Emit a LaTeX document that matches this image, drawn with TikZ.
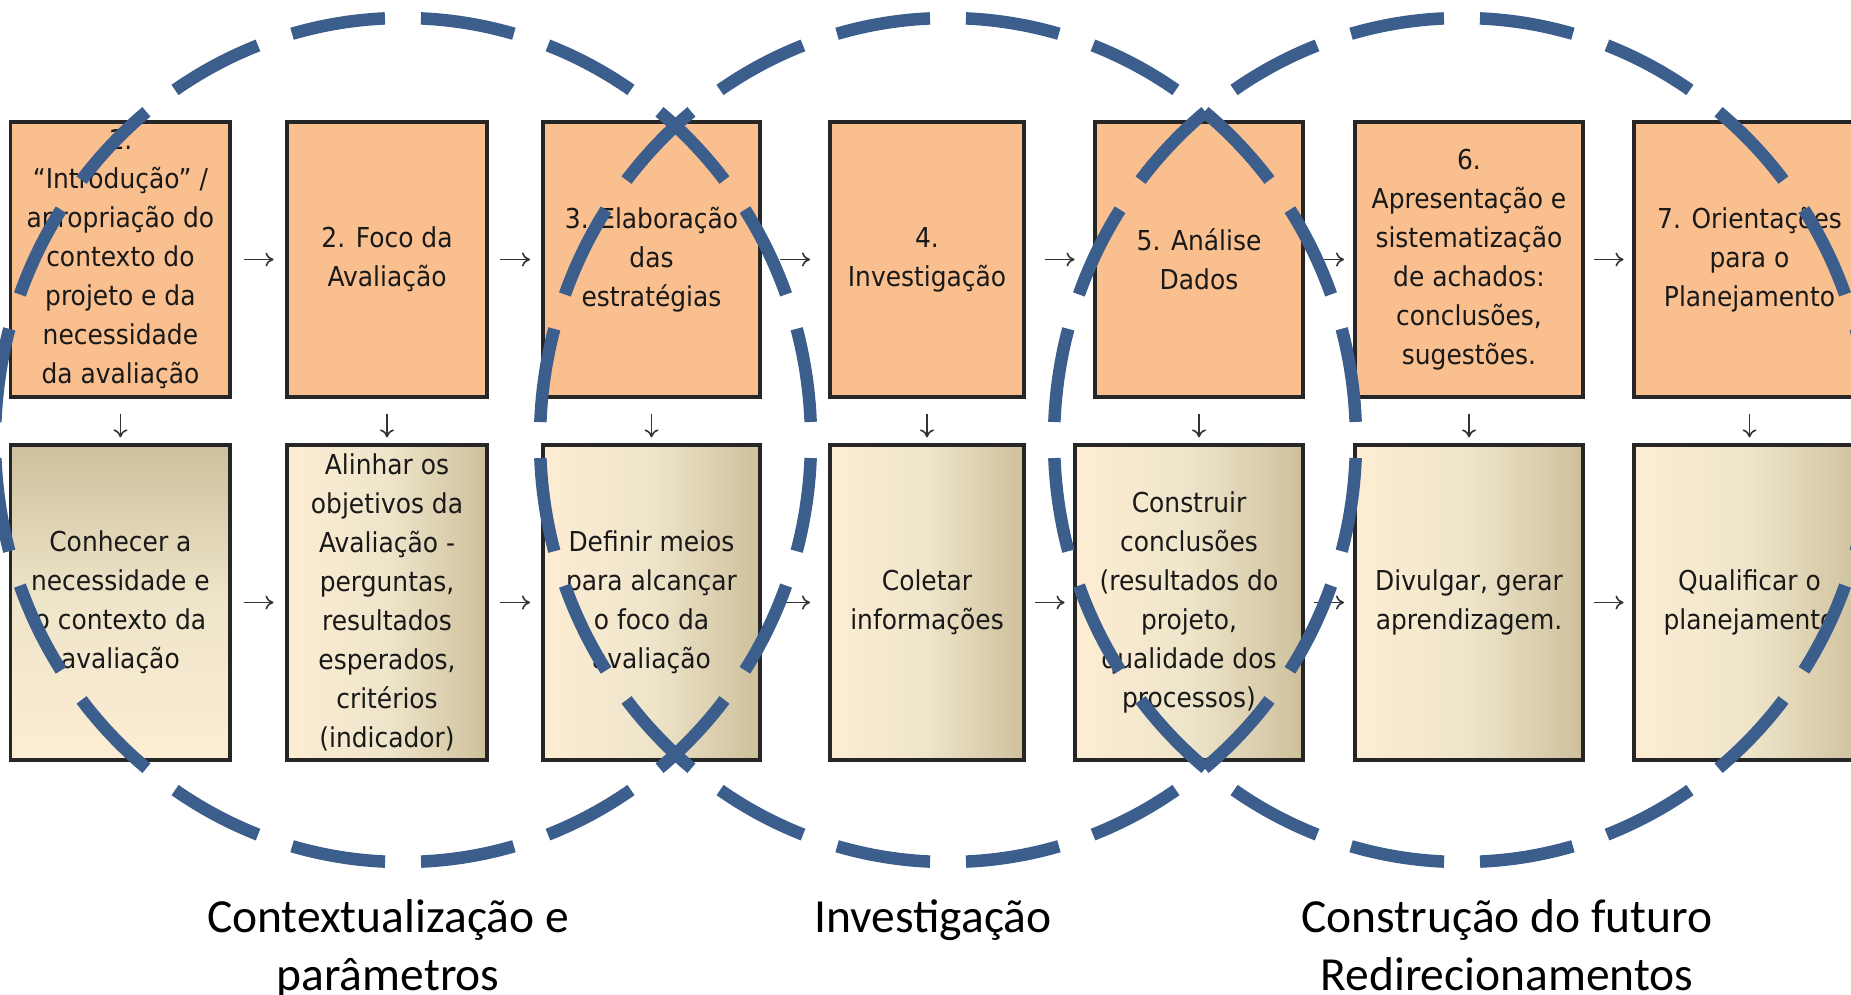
\documentclass[tikz,border=0pt]{standalone}
\usepackage{fontspec}
\usepackage{tikz}
\usetikzlibrary{calc}
\usetikzlibrary{arrows.meta}

\newfontfamily\caixafont[FakeStretch=0.91]{DejaVu Sans}
\newfontfamily\rotulofont{Carlito}

\definecolor{pessego}{HTML}{F9BF8F}
\definecolor{creme}{HTML}{FDEDD3}
\definecolor{areia}{HTML}{EEE5CA}
\definecolor{caqui}{HTML}{CEC09C}
\definecolor{anil}{HTML}{3B5E8C}

\tikzset{
  caixatopo/.style={draw=black!85, line width=1.6pt, fill=pessego, inner sep=0pt,
    minimum height=137.5pt, align=center, text=black!90,
    font=\caixafont\fontsize{13.7}{19.5}\selectfont},
  caixabaixo/.style={draw=black!85, line width=1.6pt, left color=creme, right color=caqui,
    middle color=areia, inner sep=0pt, minimum height=157.5pt, align=center, text=black!90,
    font=\caixafont\fontsize{13.7}{19.5}\selectfont},
  caixavertical/.style={caixabaixo, top color=caqui, bottom color=creme, middle color=areia},
  seta/.style={-{To[length=4pt,width=7pt]}, line width=0.8pt, black!80},
  anel/.style={anil, line width=6.25pt, dash pattern=on 47.2pt off 18pt, dash phase=56.2pt},
  rotulo/.style={anchor=base, inner sep=0pt, font=\rotulofont\fontsize{23.75}{29}\selectfont}
}

\begin{document}
\begin{tikzpicture}[x=0.5pt,y=-0.5pt]
                \useasboundingbox (0,0) rectangle (1851,995);
                \clip (0,0) rectangle (1851,995);

                \coordinate (c1) at (403,440);
                \coordinate (c2) at (948,440);
                \coordinate (c3) at (1462,440);

                % 上の段
                \node[caixatopo, minimum width=109.6pt] (t1) at (120.4,259.5) {1.\\“Introdução” /\\apropriação do\\contexto do\\projeto e da\\necessidade\\da avaliação};
                \node[caixatopo, minimum width=100pt] (t2) at (387,259.5) {2. Foco da\\Avaliação};
                \node[caixatopo, minimum width=108.5pt] (t3) at (651.5,259.5) {3. Elaboração\\das\\estratégias};
                \node[caixatopo, minimum width=97pt] (t4) at (927,259.5) {4.\\Investigação};
                \node[caixatopo, minimum width=104pt] (t5) at (1199,259.5) {5. Análise\\Dados};
                \node[caixatopo, minimum width=114pt] (t6) at (1469,259.5) {6.\\Apresentação e\\sistematização\\de achados:\\conclusões,\\sugestões.};
                \node[caixatopo, minimum width=115.5pt] (t7) at (1749.5,259.5) {7. Orientações\\para o\\Planejamento};

                % 下の段
                \node[caixavertical, minimum width=109.6pt] (b1) at (120.4,602.5) {Conhecer a\\necessidade e\\o contexto da\\avaliação};
                \node[caixabaixo, minimum width=100pt] (b2) at (387,602.5) {Alinhar os\\objetivos da\\Avaliação -\\perguntas,\\resultados\\esperados,\\critérios\\(indicador)};
                \node[caixabaixo, minimum width=108.5pt] (b3) at (651.5,602.5) {Definir meios\\para alcançar\\o foco da\\avaliação};
                \node[caixabaixo, minimum width=97pt] (b4) at (927,602.5) {Coletar\\informações};
                \node[caixabaixo, minimum width=114pt] (b5) at (1189,602.5) {Construir\\conclusões\\(resultados do\\projeto,\\qualidade dos\\processos)};
                \node[caixabaixo, minimum width=114pt] (b6) at (1469,602.5) {Divulgar, gerar\\aprendizagem.};
                \node[caixabaixo, minimum width=115.5pt] (b7) at (1749.5,602.5) {Qualificar o\\planejamento};

                % 横の矢印
                \draw[seta]($(t1.east)!.5!(t2.west)+(-15,0)$)--($(t1.east)!.5!(t2.west)+(15,0)$);
                \draw[seta]($(t2.east)!.5!(t3.west)+(-15,0)$)--($(t2.east)!.5!(t3.west)+(15,0)$);
                \draw[seta]($(t3.east)!.5!(t4.west)+(-15,0)$)--($(t3.east)!.5!(t4.west)+(15,0)$);
                \draw[seta]($(t4.east)!.5!(t5.west)+(-15,0)$)--($(t4.east)!.5!(t5.west)+(15,0)$);
                \draw[seta]($(t5.east)!.5!(t6.west)+(-15,0)$)--($(t5.east)!.5!(t6.west)+(15,0)$);
                \draw[seta]($(t6.east)!.5!(t7.west)+(-15,0)$)--($(t6.east)!.5!(t7.west)+(15,0)$);
                \draw[seta]($(b1.east)!.5!(b2.west)+(-15,0)$)--($(b1.east)!.5!(b2.west)+(15,0)$);
                \draw[seta]($(b2.east)!.5!(b3.west)+(-15,0)$)--($(b2.east)!.5!(b3.west)+(15,0)$);
                \draw[seta]($(b3.east)!.5!(b4.west)+(-15,0)$)--($(b3.east)!.5!(b4.west)+(15,0)$);
                \draw[seta]($(b4.east)!.5!(b5.west)+(-15,0)$)--($(b4.east)!.5!(b5.west)+(15,0)$);
                \draw[seta]($(b5.east)!.5!(b6.west)+(-15,0)$)--($(b5.east)!.5!(b6.west)+(15,0)$);
                \draw[seta]($(b6.east)!.5!(b7.west)+(-15,0)$)--($(b6.east)!.5!(b7.west)+(15,0)$);

                % 縦の矢印
                \draw[seta]($(t1.south)+(0,15)$)--($(t1.south |- b1.north)+(0,-6)$);
                \draw[seta]($(t2.south)+(0,15)$)--($(t2.south |- b2.north)+(0,-6)$);
                \draw[seta]($(t3.south)+(0,15)$)--($(t3.south |- b3.north)+(0,-6)$);
                \draw[seta]($(t4.south)+(0,15)$)--($(t4.south |- b4.north)+(0,-6)$);
                \draw[seta]($(t5.south)+(0,15)$)--($(t5.south |- b5.north)+(0,-6)$);
                \draw[seta]($(t6.south)+(0,15)$)--($(t6.south |- b6.north)+(0,-6)$);
                \draw[seta]($(t7.south)+(0,15)$)--($(t7.south |- b7.north)+(0,-6)$);

                % 破線の楕円
                \draw[anel](c1) ellipse [x radius=408, y radius=422];
                \draw[anel](c2) ellipse [x radius=408, y radius=422];
                \draw[anel](c3) ellipse [x radius=408, y radius=422];

                \node[rotulo] (r1a) at (388,932) {Contextualização e};
                \node[rotulo] (r1b) at (388,990) {parâmetros};
                \node[rotulo] (r2) at (933,932) {Investigação};
                \node[rotulo] (r3a) at (1507,932) {Construção do futuro};
                \node[rotulo] (r3b) at (1507,990) {Redirecionamentos};

            \end{tikzpicture}
\end{document}
